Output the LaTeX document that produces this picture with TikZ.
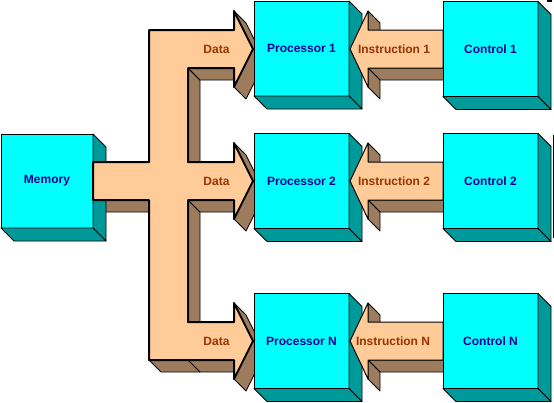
\documentclass[tikz,border=0pt]{standalone}
\usepackage{fontspec}
\setmainfont{Liberation Sans}
\definecolor{peach}{RGB}{255,204,153}
\definecolor{brn}{RGB}{156,124,92}
\definecolor{tealside}{RGB}{0,153,153}
\definecolor{cyanface}{RGB}{0,255,255}
\definecolor{navytext}{RGB}{0,0,153}
\definecolor{rust}{RGB}{153,51,0}
\newcommand\boxsides[1]{%
  \filldraw[sideface] (#1.north east) -- ++(13,13) -- ([shift={(13,13)}]#1.south east) -- (#1.south east) -- cycle;
  \filldraw[sideface] (#1.south west) -- (#1.south east) -- ([shift={(13,13)}]#1.south east) -- ([shift={(13,13)}]#1.south west) -- cycle;}
\begin{document}
\begin{tikzpicture}[x=1pt,y=-1pt,
  cube/.style={draw=black, line width=0.8pt, fill=cyanface, minimum width=95pt, minimum height=95pt,
    inner sep=0pt, outer sep=0pt, text=navytext, font=\fontsize{12}{14}\selectfont\bfseries},
  sideface/.style={draw=black, line width=0.8pt, fill=tealside, line join=round},
  shadeface/.style={draw=black, line width=0.8pt, fill=brn, line join=round},
  busfront/.style={draw=black, line width=2pt, fill=peach, line join=round},
  instrfront/.style={draw=black, line width=1pt, fill=peach, line join=round},
  arrowlabel/.style={text=rust, font=\fontsize{12}{14}\selectfont\bfseries, inner sep=0pt}]
\useasboundingbox (0,0) rectangle (554,402);
% bus extrusion
\filldraw[shadeface] (93,200) -- (149,200) -- (161,212) -- (105,212) -- cycle;
\filldraw[shadeface] (188,68) -- (188,162) -- (200,174) -- (200,80) -- cycle;
\filldraw[shadeface] (188,200) -- (188,322) -- (200,334) -- (200,212) -- cycle;
\filldraw[shadeface] (188,68) -- (234,68) -- (246,80) -- (200,80) -- cycle;
\filldraw[shadeface] (188,200) -- (234,200) -- (246,212) -- (200,212) -- cycle;
\filldraw[shadeface] (149,360) -- (234,360) -- (246,372) -- (161,372) -- cycle;
\draw[line width=0.8pt] (188,360) -- (200,372);
\foreach \yc in {49,181,341}{
  \filldraw[shadeface] (234,\yc-38) -- (253,\yc) -- (265,\yc+12) -- (246,\yc-26) -- cycle;
  \filldraw[shadeface] (253,\yc) -- (234,\yc+38) -- (246,\yc+50) -- (265,\yc+12) -- cycle;
}
% memory
\node[cube, minimum width=92pt, minimum height=94pt] (mem) at (47,181) {Memory};
\boxsides{mem}
% bus front
\path[busfront] (93,162) -- (149,162) -- (149,30) -- (234,30) -- (234,11) -- (253,49) -- (234,87) -- (234,68)
  -- (188,68) -- (188,162) -- (234,162) -- (234,143) -- (253,181) -- (234,219) -- (234,200) -- (188,200)
  -- (188,322) -- (234,322) -- (234,303) -- (253,341) -- (234,379) -- (234,360) -- (149,360) -- (149,200)
  -- (93,200) -- cycle;
\node[arrowlabel] (d1) at (216.5,49) {Data};
\node[arrowlabel] (d2) at (216.5,181) {Data};
\node[arrowlabel] (dn) at (216.5,341) {Data};
% processors
\node[cube] (p1) at (301.5,48.5) {Processor 1};
\boxsides{p1}
\node[cube] (p2) at (301.5,181) {Processor 2};
\boxsides{p2}
\node[cube] (pn) at (301.5,341) {Processor N};
\boxsides{pn}
% instruction arrows
\foreach \yc in {49,181,341}{
  \filldraw[shadeface] (368,\yc+19) -- (443,\yc+19) -- (455,\yc+31) -- (380,\yc+31) -- cycle;
  \filldraw[shadeface] (368,\yc+19) -- (368,\yc+38) -- (380,\yc+50) -- (380,\yc+31) -- cycle;
  \filldraw[shadeface] (368,\yc-38) -- (368,\yc-19) -- (380,\yc-7) -- (380,\yc-26) -- cycle;
  \path[instrfront] (443,\yc-19) -- (368,\yc-19) -- (368,\yc-38) -- (350,\yc) -- (368,\yc+38) -- (368,\yc+19) -- (443,\yc+19) -- cycle;
}
\node[arrowlabel] (i1) at (394,49) {Instruction 1};
\node[arrowlabel] (i2) at (394,181) {Instruction 2};
\node[arrowlabel] (in) at (393,341) {Instruction N};
% controls
\node[cube] (c1) at (490.5,49) {Control 1};
\boxsides{c1}
\node[cube] (c2) at (490.5,181) {Control 2};
\boxsides{c2}
\node[cube] (cn) at (490.5,341) {Control N};
\boxsides{cn}
% stray marks at the right edge
\draw[line width=1pt] (553,135) -- (553,238);
\draw[line width=1.5pt] (547,1) -- (552,1);
\end{tikzpicture}
\end{document}
